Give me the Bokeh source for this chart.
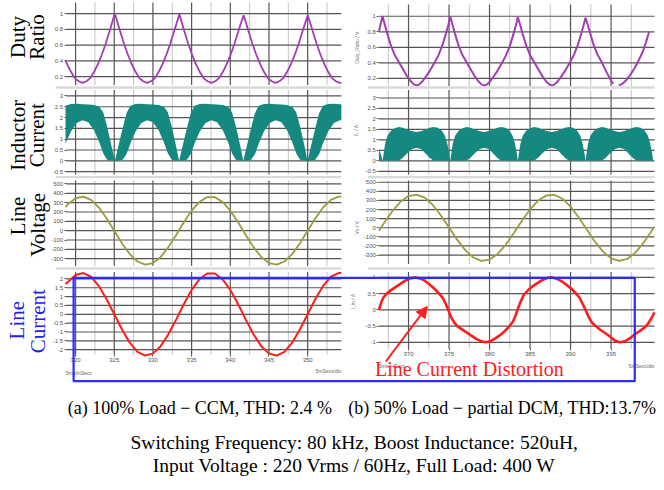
from math import pi, nan
from bokeh.plotting import figure
from bokeh.models import (Range1d, LinearAxis, FixedTicker, Label, BoxAnnotation,
                          Arrow, NormalHead, CustomJSTickFormatter)
from bokeh.embed import file_html
from bokeh.resources import INLINE

# ====================== DATA ======================
# time ticks (ms)
t_ticks_a = [320, 325, 330, 335, 340, 345, 350]
t_labels_a = ["320", "325", "330", "335", "340", "345", "350"]
t_ticks_b = [370, 375, 380, 385, 390, 395]
t_labels_b = ["370", "375", "380", "385", "390", "395"]

duty_ticks = [0.2, 0.4, 0.6, 0.8, 1]
duty_labels = ["0.2", "0.4", "0.6", "0.8", "1"]
il_ticks = [-0.5, 0, 0.5, 1, 1.5, 2, 2.5, 3]
il_labels = ["-0.5", "0", "0.5", "1", "1.5", "2", "2.5", "3"]
vs_ticks = [-300, -200, -100, 0, 100, 200, 300, 400, 500]
vs_labels = ["-300", "-200", "-100", "0", "100", "200", "300", "400", "500"]
iin_ticks_a = [-2, -1.5, -1, -0.5, 0, 0.5, 1, 1.5, 2]
iin_labels_a = ["-2", "-1.5", "-1", "-0.5", "0", "0.5", "1", "1.5", "2"]
iin_ticks_b = [-1, -0.5, 0, 0.5, 1]
iin_labels_b = ["-1", "-0.5", "0", "0.5", "1"]

# ---- (a) 100% load, CCM ----
duty_a_t = [318.7, 319.4, 319.9, 320.4, 320.9, 321.4, 321.9, 322.4, 322.9, 323.4, 323.9, 324.4, 325.07,
            325.75, 326.25, 326.75, 327.25, 327.75, 328.25, 328.75, 329.25, 329.75, 330.25, 330.75, 331.25, 331.75, 332.25, 332.75, 333.42,
            334.05, 334.55, 335.05, 335.55, 336.05, 336.55, 337.05, 337.55, 338.05, 338.55, 339.05, 339.55, 340.05, 340.55, 341.05, 341.72,
            342.35, 342.85, 343.35, 343.85, 344.35, 344.85, 345.35, 345.85, 346.35, 346.85, 347.35, 347.85, 348.35, 348.85, 349.35, 350.02,
            350.65, 351.15, 351.65, 352.15, 352.65, 353.15, 353.65, 354.15, 354.35]
duty_a = [0.40, 0.26, 0.18, 0.14, 0.12, 0.14, 0.18, 0.26, 0.36, 0.48, 0.62, 0.78, 1.00,
          0.78, 0.62, 0.48, 0.36, 0.26, 0.18, 0.14, 0.12, 0.14, 0.18, 0.26, 0.36, 0.48, 0.62, 0.78, 0.99,
          0.78, 0.62, 0.48, 0.36, 0.26, 0.18, 0.14, 0.12, 0.14, 0.18, 0.26, 0.36, 0.48, 0.62, 0.78, 0.98,
          0.78, 0.62, 0.48, 0.36, 0.26, 0.18, 0.14, 0.12, 0.14, 0.18, 0.26, 0.36, 0.48, 0.62, 0.78, 0.98,
          0.78, 0.62, 0.48, 0.36, 0.26, 0.18, 0.14, 0.12, 0.12]

il_a_t = [318.7, 319.4, 320.15, 320.9, 321.65, 322.4, 323.07, 323.57, 324.07, 324.57,
          325.08, 325.58, 326.08, 326.58, 327.08, 327.75, 328.5, 329.25, 330.0, 330.75, 331.42, 331.92, 332.42, 332.92,
          333.38, 333.88, 334.38, 334.88, 335.38, 336.05, 336.8, 337.55, 338.3, 339.05, 339.72, 340.22, 340.72, 341.22,
          341.68, 342.18, 342.68, 343.18, 343.68, 344.35, 345.1, 345.85, 346.6, 347.35, 348.02, 348.52, 349.02, 349.52,
          349.98, 350.48, 350.98, 351.48, 351.98, 352.65, 353.4, 354.15, 354.35]
il_a_hi = [2.55, 2.63, 2.64, 2.62, 2.60, 2.58, 2.50, 2.25, 1.60, 0.80,
           0.0, 0.75, 1.50, 2.20, 2.55, 2.63, 2.64, 2.62, 2.60, 2.58, 2.50, 2.25, 1.60, 0.80,
           0.0, 0.75, 1.50, 2.20, 2.55, 2.63, 2.64, 2.62, 2.60, 2.58, 2.50, 2.25, 1.60, 0.80,
           0.0, 0.75, 1.50, 2.20, 2.55, 2.63, 2.64, 2.62, 2.60, 2.58, 2.50, 2.25, 1.60, 0.80,
           0.0, 0.75, 1.50, 2.20, 2.55, 2.63, 2.64, 2.62, 2.62]
il_a_lo = [0.80, 1.35, 1.75, 1.88, 1.78, 1.40, 0.85, 0.35, 0.05, 0.0,
           0.0, 0.0, 0.05, 0.30, 0.80, 1.35, 1.75, 1.88, 1.78, 1.40, 0.85, 0.35, 0.05, 0.0,
           0.0, 0.0, 0.05, 0.30, 0.80, 1.35, 1.75, 1.88, 1.78, 1.40, 0.85, 0.35, 0.05, 0.0,
           0.0, 0.0, 0.05, 0.30, 0.80, 1.35, 1.75, 1.88, 1.78, 1.40, 0.85, 0.35, 0.05, 0.0,
           0.0, 0.0, 0.05, 0.30, 0.80, 1.35, 1.75, 1.88, 1.87]

line_a_t = [318.7, 319, 320, 321, 322, 323, 324, 325, 326, 327, 328, 329, 330, 331, 332, 333, 334,
            335, 336, 337, 338, 339, 340, 341, 342, 343, 344, 345, 346, 347, 348, 349, 350, 351,
            352, 353, 354, 354.35]
vs_a = [253, 281, 347, 364, 330, 250, 134, 0, -134, -250, -330, -364, -347, -281, -176, -46, 91,
        215, 308, 359, 359, 308, 215, 91, -46, -176, -281, -347, -364, -330, -250, -134, 0, 134,
        250, 330, 364, 364]
iin_a = [1.72, 1.82, 2.22, 2.33, 2.12, 1.60, 0.86, 0.0, -0.86, -1.60, -2.12, -2.33, -2.22, -1.80,
         -1.13, -0.30, 0.58, 1.38, 1.97, 2.30, 2.30, 1.97, 1.38, 0.58, -0.30, -1.13, -1.80, -2.22,
         -2.33, -2.12, -1.60, -0.86, 0.0, 0.86, 1.60, 2.12, 2.33, 2.33]

# ---- (b) 50% load, partial DCM ----
duty_b_t = [366.35, 366.55,
            366.8, 367.1, 367.4, 367.8, 368.3, 368.8, 369.3, 369.8, 370.3, 370.7, 371.0, 371.3, 371.7, 372.2, 372.7, 373.2, 373.7, 374.2, 374.6, 374.9,
            375.15, 375.45, 375.75, 376.15, 376.65, 377.15, 377.65, 378.15, 378.65, 379.05, 379.35, 379.65, 380.05, 380.55, 381.05, 381.55, 382.05, 382.55, 382.95, 383.25,
            383.5, 383.8, 384.1, 384.5, 385.0, 385.5, 386.0, 386.5, 387.0, 387.4, 387.7, 388.0, 388.4, 388.9, 389.4, 389.9, 390.4, 390.9, 391.3, 391.6,
            391.85, 392.15, 392.45, 392.85, 393.35, 393.85, 394.35, 394.85, 395.25, 395.6, 395.95, 396.4, 396.9, 397.4, 397.9, 398.4, 398.9, 399.3, 399.7]
duty_b = [0.80, 0.90,
          1.0, 0.88, 0.77, 0.63, 0.50, 0.41, 0.32, 0.23, 0.16, 0.12, 0.11, 0.12, 0.16, 0.23, 0.31, 0.40, 0.50, 0.63, 0.77, 0.88,
          1.0, 0.88, 0.77, 0.63, 0.50, 0.41, 0.32, 0.23, 0.16, 0.12, 0.11, 0.12, 0.16, 0.23, 0.31, 0.40, 0.50, 0.63, 0.77, 0.88,
          0.99, 0.88, 0.77, 0.63, 0.50, 0.41, 0.32, 0.23, 0.16, 0.12, 0.11, 0.12, 0.16, 0.23, 0.31, 0.40, 0.50, 0.63, 0.77, 0.88,
          0.98, 0.88, 0.77, 0.63, 0.50, 0.41, 0.30, 0.20, 0.13, nan, 0.11, 0.13, 0.18, 0.25, 0.33, 0.43, 0.54, 0.66, 0.80]

il_b_t = [366.35, 366.6,
          366.8, 367.1, 367.4, 367.8, 368.3, 368.8, 369.3, 369.8, 370.4, 370.97, 371.6, 372.1, 372.6, 373.1, 373.6, 374.1, 374.5, 374.8, 375.0,
          375.15, 375.45, 375.75, 376.15, 376.65, 377.15, 377.65, 378.15, 378.75, 379.32, 379.95, 380.45, 380.95, 381.45, 381.95, 382.45, 382.85, 383.15, 383.35,
          383.5, 383.8, 384.1, 384.5, 385.0, 385.5, 386.0, 386.5, 387.1, 387.67, 388.3, 388.8, 389.3, 389.8, 390.3, 390.8, 391.2, 391.5, 391.7,
          391.85, 392.15, 392.45, 392.85, 393.35, 393.85, 394.35, 394.85, 395.45, 396.02, 396.65, 397.15, 397.65, 398.15, 398.65, 399.15, 399.55, 399.85, 400.05,
          400.2]
il_b_hi = [0.55, 0.30,
           0.0, 0.80, 1.20, 1.42, 1.55, 1.62, 1.58, 1.50, 1.42, 1.38, 1.42, 1.50, 1.58, 1.62, 1.58, 1.45, 1.20, 0.80, 0.40,
           0.0, 0.80, 1.20, 1.42, 1.55, 1.62, 1.58, 1.50, 1.42, 1.38, 1.42, 1.50, 1.58, 1.62, 1.58, 1.45, 1.20, 0.80, 0.40,
           0.0, 0.80, 1.20, 1.42, 1.55, 1.62, 1.58, 1.50, 1.42, 1.38, 1.42, 1.50, 1.58, 1.62, 1.58, 1.45, 1.20, 0.80, 0.40,
           0.0, 0.80, 1.20, 1.42, 1.55, 1.62, 1.58, 1.50, 1.42, 1.38, 1.42, 1.50, 1.58, 1.62, 1.58, 1.45, 1.20, 0.80, 0.40,
           0.0]
il_b_lo = [0.0, 0.0,
           0, 0, 0, 0, 0, 0, 0.15, 0.35, 0.55, 0.62, 0.55, 0.35, 0.15, 0, 0, 0, 0, 0, 0,
           0, 0, 0, 0, 0, 0, 0.15, 0.35, 0.55, 0.62, 0.55, 0.35, 0.15, 0, 0, 0, 0, 0, 0,
           0, 0, 0, 0, 0, 0, 0.15, 0.35, 0.55, 0.62, 0.55, 0.35, 0.15, 0, 0, 0, 0, 0, 0,
           0, 0, 0, 0, 0, 0, 0.15, 0.35, 0.55, 0.62, 0.55, 0.35, 0.15, 0, 0, 0, 0, 0, 0,
           0.0]

vs_b_t = [366.35, 367, 368, 369, 370, 371, 372, 373, 374, 375, 376, 377, 378, 379, 380, 381, 382,
          383, 384, 385, 386, 387, 388, 389, 390, 391, 392, 393, 394, 395, 396, 397, 398, 399, 400, 400.35]
vs_b = [-33, 54, 182, 285, 348, 364, 330, 250, 135, 3, -131, -246, -327, -364, -350, -288, -187,
        -59, 76, 201, 298, 354, 362, 319, 233, 115, -20, -151, -262, -337, -365, -343, -274, -167, -37, 12]

iin_b_t = [366.35, 366.6, 366.9, 367.3, 367.8, 368.4, 369.0, 369.6, 370.2, 370.8, 371.4, 372.0, 372.6,
           373.2, 373.7, 374.2, 374.6, 374.9, 375.2, 375.6, 376.0, 376.6, 377.2, 377.8, 378.4, 379.0,
           379.5, 380.1, 380.7, 381.3, 381.9, 382.4, 382.9, 383.2, 383.45, 383.75, 384.2, 384.8, 385.4,
           386.0, 386.6, 387.2, 387.7, 388.3, 388.9, 389.5, 390.1, 390.6, 391.1, 391.5, 391.85, 392.2,
           392.6, 393.1, 393.7, 394.3, 394.9, 395.5, 396.1, 396.7, 397.3, 397.9, 398.5, 399.0, 399.5,
           400.0, 400.35]
iin_b = [0.0, 0.20, 0.38, 0.50, 0.60, 0.70, 0.80, 0.90, 0.97, 1.0, 0.97, 0.90, 0.78,
         0.65, 0.52, 0.38, 0.18, 0.0, -0.20, -0.38, -0.50, -0.60, -0.70, -0.80, -0.90, -0.97,
         -1.0, -0.97, -0.88, -0.78, -0.65, -0.52, -0.36, -0.18, 0.0, 0.20, 0.45, 0.62, 0.74,
         0.84, 0.93, 0.99, 1.0, 0.96, 0.88, 0.77, 0.65, 0.52, 0.38, 0.18, 0.0, -0.20,
         -0.38, -0.50, -0.62, -0.72, -0.83, -0.95, -1.0, -0.97, -0.88, -0.76, -0.66, -0.57, -0.45,
         -0.25, -0.08]

# ====================== LAYOUT (reference pixel space) ======================
PURPLE, TEAL, OLIVE, RED, BLUE = "#a23cb2", "#15897f", "#9c9b3e", "#ff1c1c", "#2b2bff"
GRID_DARK, GRID_LIGHT, SEP = "#555555", "#c4c4c4", "#dadada"
REF_W, REF_H = 664, 490

COLS = {  # time ref, its pixel x, px per ms, panel left / right pixel
    "a": dict(t_ref=320, x_ref=76, k=7.83, x_left=66.5, x_right=345),
    "b": dict(t_ref=370, x_ref=413, k=8.2, x_left=383, x_right=662),
}
# name: (column, pixel y of value 0, px per unit, panel top px, panel bottom px, ticks, labels)
PANELS = {
    "a_duty": ("a", 93.3, 80, 2, 86, duty_ticks, duty_labels),
    "a_il": ("a", 163, 22, 91, 177, il_ticks, il_labels),
    "a_vs": ("a", 234, 0.095, 183, 270, vs_ticks, vs_labels),
    "a_iin": ("a", 319, 18, 276, 360, iin_ticks_a, iin_labels_a),
    "b_duty": ("b", 95, 79, 4, 87, duty_ticks, duty_labels),
    "b_il": ("b", 163, 21.3, 91, 177, il_ticks, il_labels),
    "b_vs": ("b", 231, 0.0925, 183, 268, vs_ticks, vs_labels),
    "b_iin": ("b", 314.5, 33, 276, 354, iin_ticks_b, iin_labels_b),
}

def t_at(col, x):
    c = COLS[col]
    return c["t_ref"] + (x - c["x_ref"]) / c["k"]

def v_at(name, y):
    _, y0, k, *_ = PANELS[name]
    return (y0 - y) / k

p = figure(width=656, height=482, x_range=Range1d(0, REF_W), y_range=Range1d(REF_H, 0),
           x_axis_location=None, y_axis_location=None, toolbar_location=None,
           output_backend="svg", min_border=0, outline_line_color=None, title=None,
           background_fill_color="white", border_fill_color="white")
p.grid.visible = False
p.extra_x_ranges = {c: Range1d(t_at(c, 0), t_at(c, REF_W)) for c in COLS}
p.extra_y_ranges = {n: Range1d(v_at(n, REF_H), v_at(n, 0)) for n in PANELS}

# separators between stacked panels
for ysep in (88.5, 179.5, 272.5):
    p.add_layout(BoxAnnotation(left=56, right=345, top=ysep - 1.2, bottom=ysep + 1.2,
                               fill_color=SEP, fill_alpha=1, line_color=None, level="underlay"))
    p.add_layout(BoxAnnotation(left=372, right=662, top=ysep - 1.2, bottom=ysep + 1.2,
                               fill_color=SEP, fill_alpha=1, line_color=None, level="underlay"))

col_ticks = {"a": t_ticks_a, "b": t_ticks_b}
col_tlabels = {"a": t_labels_a, "b": t_labels_b}
fmt = CustomJSTickFormatter(code="return String(tick)")

for name, (col, y0, k, top, bot, ticks, labels) in PANELS.items():
    tmin, tmax = t_at(col, COLS[col]["x_left"]), t_at(col, COLS[col]["x_right"])
    vtop, vbot = v_at(name, top), v_at(name, bot)
    tt = col_ticks[col]
    half = (tt[1] - tt[0]) / 2
    minor = [t for t in [tt[0] - half] + [t + half for t in tt] if tmin < t < tmax]
    kw = dict(x_range_name=col, y_range_name=name)
    p.segment(x0=minor, x1=minor, y0=[vbot] * len(minor), y1=[vtop] * len(minor),
              line_color=GRID_LIGHT, line_width=1, **kw)
    p.segment(x0=tt, x1=tt, y0=[vbot] * len(tt), y1=[vtop] * len(tt),
              line_color=GRID_DARK, line_width=1.2, **kw)
    p.segment(x0=[tmin] * len(ticks), x1=[tmax] * len(ticks), y0=ticks, y1=ticks,
              line_color=GRID_DARK, line_width=1.2, **kw)
    ax = LinearAxis(y_range_name=name, fixed_location=COLS[col]["x_left"],
                    ticker=FixedTicker(ticks=ticks), bounds=(vbot, vtop), formatter=fmt,
                    major_label_overrides=dict(zip(ticks, labels)),
                    axis_line_color=None, major_tick_line_color="#555555", major_tick_out=2,
                    major_tick_in=0, minor_tick_line_color=None, major_label_standoff=1,
                    major_label_text_font_size="6px", major_label_text_color="#555555",
                    major_label_text_font="Liberation Sans")
    p.add_layout(ax, "left")

for col, ybase in (("a", 360), ("b", 354)):
    tmin, tmax = t_at(col, COLS[col]["x_left"]), t_at(col, COLS[col]["x_right"])
    xa = LinearAxis(x_range_name=col, fixed_location=ybase, ticker=FixedTicker(ticks=col_ticks[col]),
                    bounds=(tmin, tmax), formatter=fmt,
                    major_label_overrides=dict(zip(col_ticks[col], col_tlabels[col])),
                    axis_line_color=None, major_tick_line_color="#555555", major_tick_out=2,
                    major_tick_in=0, minor_tick_line_color=None, major_label_standoff=1,
                    major_label_text_font_size="6px", major_label_text_color="#555555",
                    major_label_text_font="Liberation Sans")
    p.add_layout(xa, "below")

# ---- waveforms ----
p.line(duty_a_t, duty_a, x_range_name="a", y_range_name="a_duty", line_color=PURPLE, line_width=1.8)
p.varea(x=il_a_t, y1=il_a_lo, y2=il_a_hi, x_range_name="a", y_range_name="a_il", fill_color=TEAL)
p.line(line_a_t, vs_a, x_range_name="a", y_range_name="a_vs", line_color=OLIVE, line_width=1.8)
p.line(line_a_t, iin_a, x_range_name="a", y_range_name="a_iin", line_color=RED, line_width=2)

p.line(duty_b_t, duty_b, x_range_name="b", y_range_name="b_duty", line_color=PURPLE, line_width=2)
p.varea(x=il_b_t, y1=il_b_lo, y2=il_b_hi, x_range_name="b", y_range_name="b_il", fill_color=TEAL)
p.line(vs_b_t, vs_b, x_range_name="b", y_range_name="b_vs", line_color=OLIVE, line_width=1.8)
p.line(iin_b_t, iin_b, x_range_name="b", y_range_name="b_iin", line_color=RED, line_width=2.6)

# ---- texts ----
def lab(x, y, text, size, color="black", font="Liberation Serif", angle=0, align="center"):
    p.add_layout(Label(x=x, y=y, text=text, angle=angle, text_align=align, text_baseline="middle",
                       text_font=font, text_font_size=size, text_color=color))

for x, y, t, c in [(18, 37, "Duty", "black"), (37, 37, "Ratio", "black"),
                   (18, 137, "Inductor", "black"), (37, 137, "Current", "black"),
                   (18, 219, "Line", "black"), (38, 228, "Voltage", "black"),
                   (17, 325, "Line", "#2222ee"), (38, 326, "Current", "#2222ee")]:
    lab(x, y, t, "21px", c, angle=pi / 2)

for x, y, t in [(361, 48, "Duty_Ratio / V"), (360, 132, "IL / A"), (361, 231, "Vs / V"), (357, 306, "I_in / A")]:
    lab(x, y, t, "5px", "#777777", font="Liberation Sans", angle=pi / 2)

lab(66, 379, "5ms/mSecs", "5px", "#666666", font="Liberation Sans", align="left")
lab(345, 377, "5mSecs/div", "5px", "#666666", font="Liberation Sans", align="right")
lab(383, 372, "5ms/mSecs", "5px", "#666666", font="Liberation Sans", align="left")
lab(662, 372, "5mSecs/div", "5px", "#666666", font="Liberation Sans", align="right")

p.add_layout(BoxAnnotation(left=74, right=642, top=282, bottom=387, fill_alpha=0,
                           line_color=BLUE, line_alpha=1, line_width=2.2))
p.add_layout(Arrow(end=NormalHead(size=11, fill_color=RED, line_color=RED),
                   x_start=390, y_start=367, x_end=432, y_end=311, line_color=RED, line_width=2))
lab(379, 375, "Line Current Distortion", "20px", RED, align="left")

lab(68, 414, "(a) 100% Load \u2212 CCM, THD: 2.4 %", "18px", align="left")
lab(352, 414, "(b) 50% Load \u2212 partial DCM, THD:13.7%", "18px", align="left")
lab(358, 449, "Switching Frequency: 80 kHz, Boost Inductance: 520uH,", "19.5px")
lab(358, 473, "Input Voltage : 220 Vrms / 60Hz, Full Load: 400 W", "19.5px")

open("out.html", "w").write(file_html(p, INLINE))
